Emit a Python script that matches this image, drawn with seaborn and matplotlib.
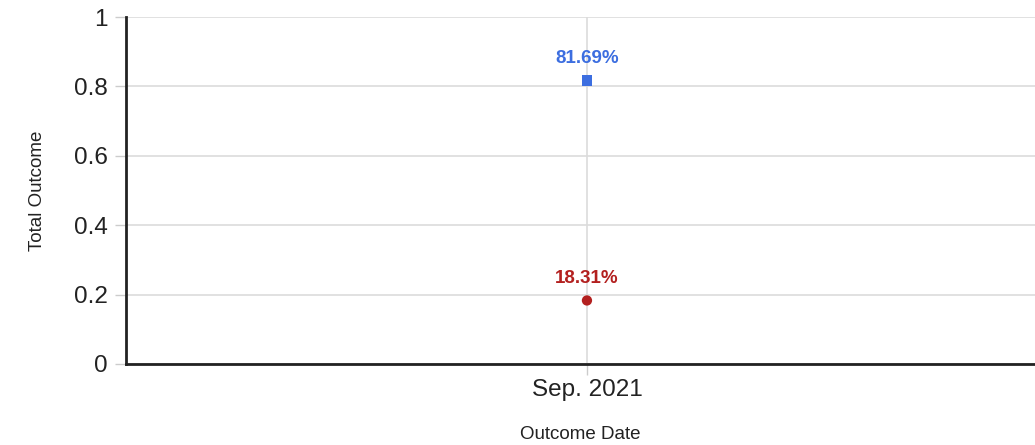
import matplotlib
matplotlib.use("Agg")
import matplotlib.pyplot as plt
import seaborn as sns
import pandas as pd

dates = ["Sep. 2021"]
series_names = ["Outcome A", "Outcome B"]
outcome_a = [0.8169]
outcome_b = [0.1831]
colors = {"Outcome A": "#3c6ee0", "Outcome B": "#b3201f"}
markers = {"Outcome A": "s", "Outcome B": "o"}

rows = []
for name, vals in zip(series_names, [outcome_a, outcome_b]):
    for d, v in zip(dates, vals):
        rows.append({"date": d, "value": v, "series": name})
df = pd.DataFrame(rows)

sns.set_theme(style="white")
plt.rcParams["font.family"] = ["Liberation Sans", "DejaVu Sans"]

fig = plt.figure(figsize=(10.35, 4.45), dpi=100)
ax = fig.add_axes([126/1035, 1 - 364/445, 1 - 126/1035, (364 - 17)/445])

sns.scatterplot(data=df, x="date", y="value", hue="series", style="series",
                palette=colors, markers=markers, s=55, linewidth=0,
                legend=False, ax=ax, zorder=3)

for _, r in df.iterrows():
    ax.annotate(f"{r['value']*100:.2f}%", (0, r["value"]), xytext=(0, 10),
                textcoords="offset points", ha="center", va="bottom",
                color=colors[r["series"]], fontsize=13.5, fontweight="bold")

ax.set_xlim(-1, 0.972)
ax.set_ylim(0, 1)
ax.set_yticks([0, 0.2, 0.4, 0.6, 0.8, 1])
ax.set_yticklabels(["0", "0.2", "0.4", "0.6", "0.8", "1"])
ax.grid(True, color="#dcdcdc", linewidth=1.2)
ax.set_axisbelow(True)
for s in ["top", "right"]:
    ax.spines[s].set_visible(False)
for s in ["left", "bottom"]:
    ax.spines[s].set_color("#222222")
    ax.spines[s].set_linewidth(2)
ax.tick_params(axis="y", which="both", length=8, width=1, color="#cccccc",
               labelsize=17.5, labelcolor="#222222", pad=5, left=True)
ax.tick_params(axis="x", which="both", length=8, width=1, color="#cccccc",
               labelsize=17.5, labelcolor="#222222", pad=3, bottom=True)
ax.set_xlabel("Outcome Date", fontsize=13.5, color="#222222", labelpad=18)
ax.set_ylabel("Total Outcome", fontsize=13.5, color="#222222", labelpad=20)

fig.savefig("out.png", dpi=100, facecolor="white")
